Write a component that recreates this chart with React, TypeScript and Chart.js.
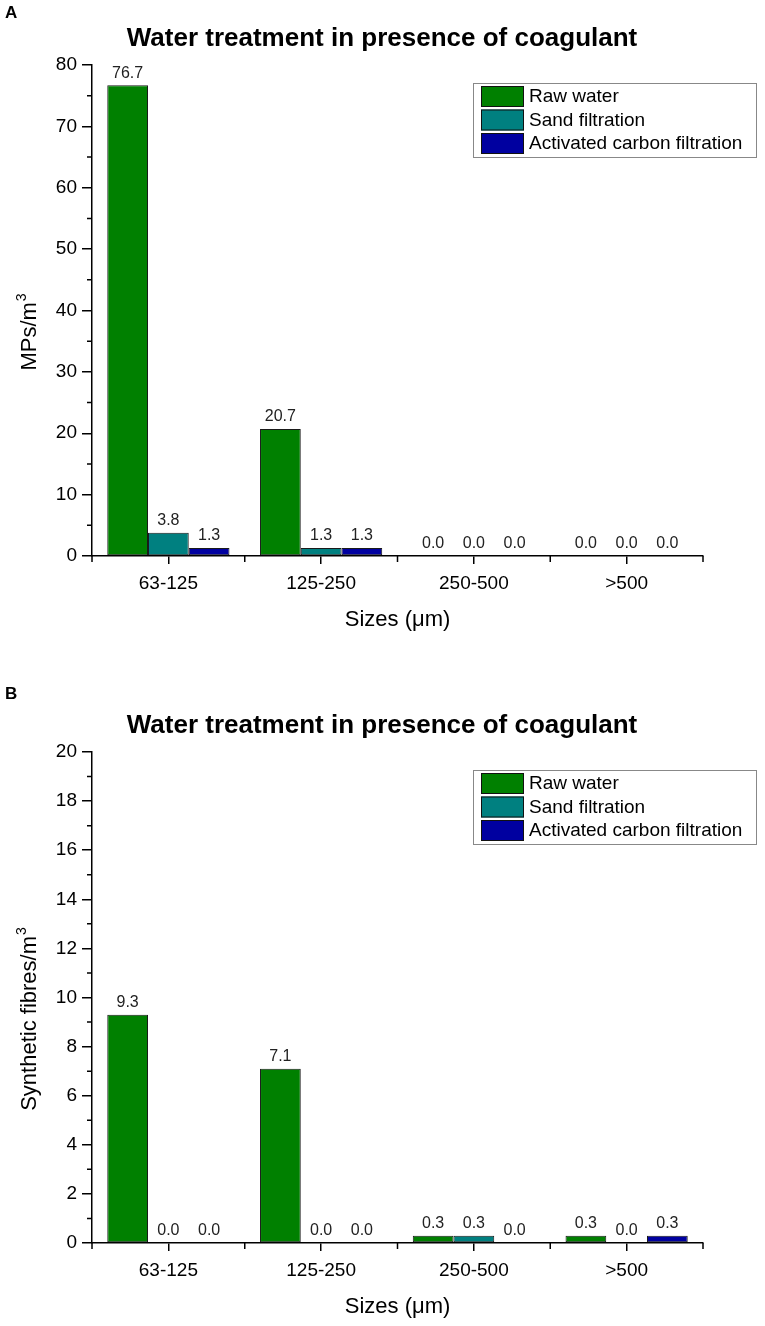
import { useEffect, useRef } from "react";
import { Chart, registerables, type Plugin } from "chart.js";

Chart.register(...registerables);

const sizes = ["63-125", "125-250", "250-500", ">500"];
const seriesNames = ["Raw water", "Sand filtration", "Activated carbon filtration"];
const seriesColors = ["#008000", "#008080", "#0000A0"];

// panel A: MPs/m3
const mpsRaw = [76.7, 20.7, 0.0, 0.0];
const mpsSand = [3.8, 1.3, 0.0, 0.0];
const mpsCarbon = [1.3, 1.3, 0.0, 0.0];

// panel B: synthetic fibres/m3
const fibresRaw = [9.3, 7.1, 0.3, 0.3];
const fibresSand = [0.0, 0.0, 0.3, 0.0];
const fibresCarbon = [0.0, 0.0, 0.0, 0.3];

const FONT = "'Liberation Sans', Arial, sans-serif";
const TITLE = "Water treatment in presence of coagulant";

type Decor = {
  letter: string;
  letterY: number;
  yTitle: string;
  ySup: string;
  minorStep: number;
  majorStep: number;
};

// draws panel letter, titles, minor ticks, value labels and the boxed legend
const decorPlugin: Plugin<"bar"> = {
  id: "decor",
  afterDraw(chart, _args, opts: any) {
    const d = opts as Decor;
    const { ctx, chartArea } = chart;
    const { left, right, top, bottom } = chartArea;
    const y = chart.scales.y;
    const x = chart.scales.x;
    ctx.save();
    ctx.fillStyle = "#000";
    ctx.strokeStyle = "#000";

    ctx.font = `bold 17px ${FONT}`;
    ctx.textAlign = "left";
    ctx.textBaseline = "middle";
    ctx.fillText(d.letter, 5, d.letterY);

    ctx.font = `bold 26px ${FONT}`;
    ctx.textAlign = "center";
    ctx.fillText(TITLE, 382, top - 26);

    // y title with superscript
    ctx.save();
    ctx.translate(28, (top + bottom) / 2 + 22);
    ctx.rotate(-Math.PI / 2);
    ctx.font = `22px ${FONT}`;
    const w1 = ctx.measureText(d.yTitle).width;
    ctx.font = `14px ${FONT}`;
    const w2 = ctx.measureText(d.ySup).width;
    const start = -(w1 + w2) / 2;
    ctx.textAlign = "left";
    ctx.textBaseline = "alphabetic";
    ctx.font = `22px ${FONT}`;
    ctx.fillText(d.yTitle, start, 8);
    ctx.font = `14px ${FONT}`;
    ctx.fillText(d.ySup, start + w1 + 1, -2);
    ctx.restore();

    ctx.font = `22px ${FONT}`;
    ctx.textAlign = "center";
    ctx.textBaseline = "middle";
    ctx.fillText("Sizes (\u03bcm)", (left + right) / 2, bottom + 64);

    // minor ticks
    ctx.lineWidth = 1.5;
    ctx.beginPath();
    for (let v = d.minorStep; v < (y.max as number); v += d.minorStep) {
      if (Math.abs(v / d.majorStep - Math.round(v / d.majorStep)) < 1e-6) continue;
      const py = y.getPixelForValue(v);
      ctx.moveTo(left - 5, py);
      ctx.lineTo(left, py);
    }
    const n = sizes.length;
    const edges = [left, right];
    for (let i = 1; i < n; i++) {
      edges.push((x.getPixelForValue(i - 1) + x.getPixelForValue(i)) / 2);
    }
    edges.forEach((px) => {
      ctx.moveTo(px, bottom);
      ctx.lineTo(px, bottom + 6);
    });
    ctx.stroke();

    // value labels
    ctx.font = `16px ${FONT}`;
    ctx.fillStyle = "#222";
    ctx.textAlign = "center";
    ctx.textBaseline = "bottom";
    chart.data.datasets.forEach((ds, di) => {
      const meta = chart.getDatasetMeta(di);
      meta.data.forEach((bar: any, i) => {
        const v = ds.data[i] as number;
        ctx.fillText(v.toFixed(1), bar.x, bar.y - 4);
      });
    });

    // legend box
    ctx.strokeStyle = "#888";
    ctx.lineWidth = 1;
    ctx.strokeRect(473.5, top + 18.5, 283, 74);
    ctx.font = `19px ${FONT}`;
    ctx.textAlign = "left";
    ctx.textBaseline = "middle";
    chart.data.datasets.forEach((ds, di) => {
      const sy = top + 21 + di * 23.5;
      ctx.fillStyle = ds.backgroundColor as string;
      ctx.fillRect(481, sy, 43, 21);
      ctx.strokeStyle = "#111";
      ctx.strokeRect(481.5, sy + 0.5, 42, 20);
      ctx.fillStyle = "#000";
      ctx.fillText(ds.label as string, 529, sy + 11);
    });
    ctx.restore();
  },
};

function Panel({
  height,
  letter,
  letterY,
  yTitle,
  yMax,
  yStep,
  minorStep,
  series,
}: {
  height: number;
  letter: string;
  letterY: number;
  yTitle: string;
  yMax: number;
  yStep: number;
  minorStep: number;
  series: number[][];
}) {
  const canvasRef = useRef<HTMLCanvasElement>(null);

  useEffect(() => {
    if (!canvasRef.current) return;
    const chart = new Chart(canvasRef.current, {
      type: "bar",
      data: {
        labels: sizes,
        datasets: series.map((data, i) => ({
          label: seriesNames[i],
          data,
          backgroundColor: seriesColors[i],
          borderColor: "#1a1a1a",
          borderWidth: 1,
          borderSkipped: false,
          categoryPercentage: 0.8,
          barPercentage: 1.0,
        })),
      },
      options: {
        animation: false,
        responsive: true,
        maintainAspectRatio: false,
        layout: { padding: { top: 65, right: 62, left: 0, bottom: 0 } },
        plugins: {
          legend: { display: false },
          title: { display: false },
          tooltip: { enabled: false },
          decor: { letter, letterY, yTitle, ySup: "3", minorStep, majorStep: yStep },
        } as any,
        scales: {
          x: {
            afterFit: (s: any) => {
              s.height = height - 556;
            },
            grid: {
              offset: false,
              drawOnChartArea: false,
              drawTicks: true,
              tickLength: 8,
              color: "#000",
              lineWidth: 1.5,
            },
            border: { display: true, color: "#000", width: 1.5 },
            ticks: { color: "#000", padding: 8, font: { family: FONT, size: 19 } },
          },
          y: {
            min: 0,
            max: yMax,
            afterFit: (s: any) => {
              s.width = 92;
            },
            grid: {
              drawOnChartArea: false,
              drawTicks: true,
              tickLength: 10,
              color: "#000",
              lineWidth: 1.5,
            },
            border: { display: true, color: "#000", width: 1.5 },
            ticks: { stepSize: yStep, color: "#000", padding: 5, font: { family: FONT, size: 19 } },
          },
        },
      },
      plugins: [decorPlugin],
    });
    return () => chart.destroy();
  }, []);

  return (
    <div style={{ position: "relative", width: 765, height }}>
      <canvas ref={canvasRef} />
    </div>
  );
}

export default function App() {
  return (
    <div style={{ position: "absolute", left: 0, top: 0, width: 765, height: 1326, background: "#fff" }}>
      <Panel
        height={687}
        letter="A"
        letterY={13}
        yTitle="MPs/m"
        yMax={80}
        yStep={10}
        minorStep={5}
        series={[mpsRaw, mpsSand, mpsCarbon]}
      />
      <Panel
        height={639}
        letter="B"
        letterY={7}
        yTitle="Synthetic fibres/m"
        yMax={20}
        yStep={2}
        minorStep={1}
        series={[fibresRaw, fibresSand, fibresCarbon]}
      />
    </div>
  );
}
